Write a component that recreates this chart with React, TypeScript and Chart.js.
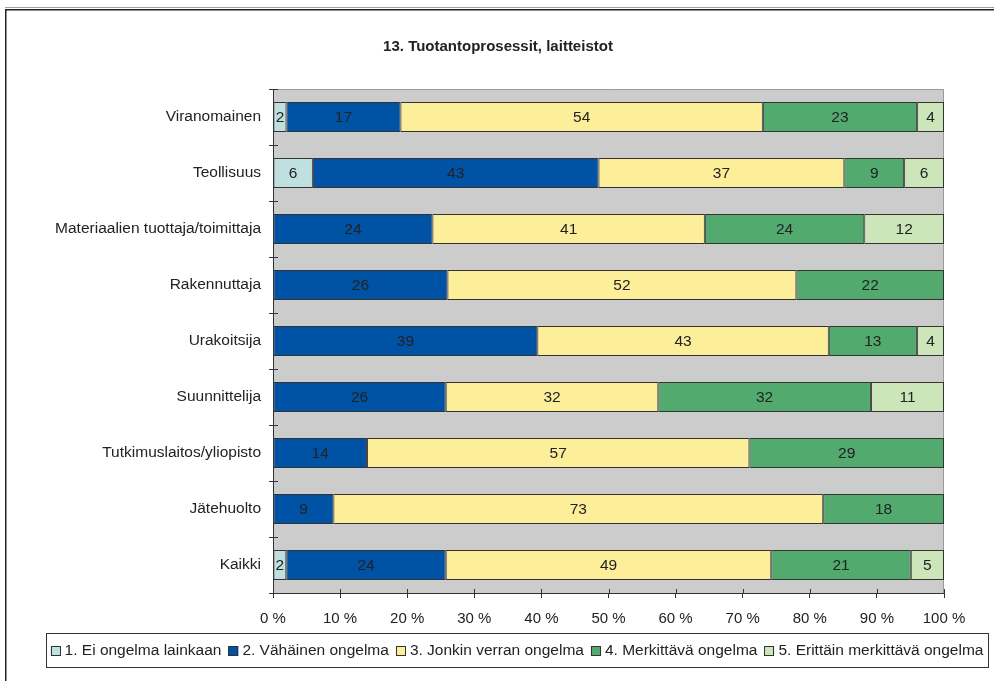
import React, { useEffect, useRef } from "react";
import { Chart, registerables } from "chart.js";

Chart.register(...registerables);

const FONT = '"Liberation Sans", Arial, sans-serif';

const title = "13. Tuotantoprosessit, laitteistot";
const categories = [
  "Viranomainen",
  "Teollisuus",
  "Materiaalien tuottaja/toimittaja",
  "Rakennuttaja",
  "Urakoitsija",
  "Suunnittelija",
  "Tutkimuslaitos/yliopisto",
  "Jätehuolto",
  "Kaikki",
];
const seriesNames = [
  "1. Ei ongelma lainkaan",
  "2. Vähäinen ongelma",
  "3. Jonkin verran ongelma",
  "4. Merkittävä ongelma",
  "5. Erittäin merkittävä ongelma",
];
const s1 = [2, 6, 0, 0, 0, 0, 0, 0, 2];
const s2 = [17, 43, 24, 26, 39, 26, 14, 9, 24];
const s3 = [54, 37, 41, 52, 43, 32, 57, 73, 49];
const s4 = [23, 9, 24, 22, 13, 32, 29, 18, 21];
const s5 = [4, 6, 12, 0, 4, 11, 0, 0, 5];
const xTickValues = [0, 10, 20, 30, 40, 50, 60, 70, 80, 90, 100];
const colors = ["#c0e0e0", "#0052a4", "#fdee9a", "#52aa6e", "#cce6ba"];

const series = [s1, s2, s3, s4, s5];
const rowSums = categories.map((_, i) => series.reduce((a, s) => a + s[i], 0));

const decorPlugin = {
  id: "decor",
  beforeDraw(chart: any) {
    const { ctx, chartArea } = chart;
    ctx.save();
    ctx.fillStyle = "#ffffff";
    ctx.fillRect(0, 0, chart.width, chart.height);
    ctx.fillStyle = "#cccccc";
    ctx.fillRect(chartArea.left, chartArea.top, chartArea.right - chartArea.left, chartArea.bottom - chartArea.top);
    ctx.strokeStyle = "#9a9a9a";
    ctx.lineWidth = 1;
    ctx.beginPath();
    ctx.moveTo(chartArea.left, chartArea.top + 0.5);
    ctx.lineTo(chartArea.right - 0.5, chartArea.top + 0.5);
    ctx.lineTo(chartArea.right - 0.5, chartArea.bottom);
    ctx.stroke();
    ctx.restore();
  },
  afterDatasetsDraw(chart: any) {
    const { ctx } = chart;
    ctx.save();
    ctx.font = `15.5px ${FONT}`;
    ctx.fillStyle = "#222222";
    ctx.textAlign = "center";
    ctx.textBaseline = "middle";
    chart.data.datasets.forEach((ds: any, di: number) => {
      const meta = chart.getDatasetMeta(di);
      meta.data.forEach((el: any, i: number) => {
        const raw = series[di][i];
        if (!raw) return;
        const cx = (el.x + el.base) / 2;
        ctx.fillText(String(raw), cx, el.y + 1);
      });
    });
    ctx.restore();
  },
  afterDraw(chart: any) {
    const { ctx, chartArea } = chart;
    const ys = chart.scales.y;
    const xs = chart.scales.x;
    ctx.save();
    // inner tick halves
    ctx.strokeStyle = "#333333";
    ctx.lineWidth = 1;
    ctx.beginPath();
    for (let i = 0; i <= categories.length; i++) {
      const py = Math.round(ys.getPixelForValue(i - 0.5)) + 0.5;
      ctx.moveTo(chartArea.left, py);
      ctx.lineTo(chartArea.left + 5, py);
    }
    xTickValues.forEach((v) => {
      const px = Math.round(xs.getPixelForValue(v)) + 0.5;
      ctx.moveTo(px, chartArea.bottom);
      ctx.lineTo(px, chartArea.bottom - 4);
    });
    ctx.stroke();

    // title
    ctx.fillStyle = "#222222";
    ctx.font = `bold 15px ${FONT}`;
    ctx.textAlign = "center";
    ctx.textBaseline = "middle";
    ctx.fillText(title, 498, 47);

    // legend
    ctx.font = `15.5px ${FONT}`;
    const box = { l: 46, r: 988, t: 633, b: 667 };
    const sw = 10, gapT = 4, gapI = 7;
    const widths = seriesNames.map((n) => ctx.measureText(n).width);
    const total = widths.reduce((a, w) => a + sw + gapT + w, 0) + gapI * (seriesNames.length - 1);
    let x = (box.l + box.r) / 2 - total / 2;
    const cy = 651;
    ctx.textAlign = "left";
    seriesNames.forEach((n, i) => {
      ctx.fillStyle = colors[i];
      ctx.fillRect(x, cy - 5, sw, sw);
      ctx.strokeStyle = "#333333";
      ctx.strokeRect(Math.round(x) + 0.5, cy - 5 + 0.5, sw - 1, sw - 1);
      ctx.fillStyle = "#222222";
      ctx.fillText(n, x + sw + gapT, cy);
      x += sw + gapT + widths[i] + gapI;
    });
    ctx.strokeStyle = "#333333";
    ctx.strokeRect(box.l + 0.5, box.t + 0.5, box.r - box.l, box.b - box.t);

    // outer border
    ctx.fillStyle = "#a0a0a0";
    ctx.fillRect(5, 7, 989, 1);
    ctx.fillStyle = "#222222";
    ctx.fillRect(5, 9, 989, 1.5);
    ctx.fillRect(5, 9, 1.5, 672);
    ctx.restore();
  },
};

export default function App() {
  const ref = useRef<HTMLCanvasElement | null>(null);
  useEffect(() => {
    if (!ref.current) return;
    const chart = new Chart(ref.current, {
      type: "bar",
      data: {
        labels: categories,
        datasets: series.map((s, di) => ({
          label: seriesNames[di],
          data: s.map((v, i) => (v / rowSums[i]) * 100),
          backgroundColor: colors[di],
          borderColor: "#333333",
          borderWidth: 1,
          borderSkipped: false,
          barPercentage: 0.536,
          categoryPercentage: 1,
        })),
      },
      options: {
        indexAxis: "y",
        responsive: false,
        animation: false,
        events: [],
        layout: { padding: { top: 89, right: 50, bottom: 0, left: 0 } },
        plugins: {
          legend: { display: false },
          title: { display: false },
          tooltip: { enabled: false },
        },
        scales: {
          x: {
            type: "linear",
            stacked: true,
            min: 0,
            max: 100,
            afterFit: (s: any) => {
              s.height = 88;
            },
            afterBuildTicks: (s: any) => {
              s.ticks = xTickValues.map((v) => ({ value: v }));
            },
            ticks: {
              callback: (v: any) => `${v} %`,
              font: { family: FONT, size: 15 },
              color: "#222222",
              padding: 12,
              maxRotation: 0,
            },
            grid: { drawOnChartArea: false, tickLength: 5, color: "#333333" },
            border: { color: "#333333", width: 1 },
          },
          y: {
            stacked: true,
            afterFit: (s: any) => {
              s.width = 273;
            },
            ticks: {
              font: { family: FONT, size: 15.5 },
              color: "#222222",
              padding: 8,
            },
            grid: { drawOnChartArea: false, tickLength: 4, color: "#333333", offset: true },
            border: { color: "#333333", width: 1 },
          },
        },
      },
      plugins: [decorPlugin],
    } as any);
    return () => chart.destroy();
  }, []);
  return (
    <div style={{ position: "absolute", left: 0, top: 0, width: 994, height: 681 }}>
      <canvas ref={ref} width={994} height={681} style={{ display: "block" }} />
    </div>
  );
}
